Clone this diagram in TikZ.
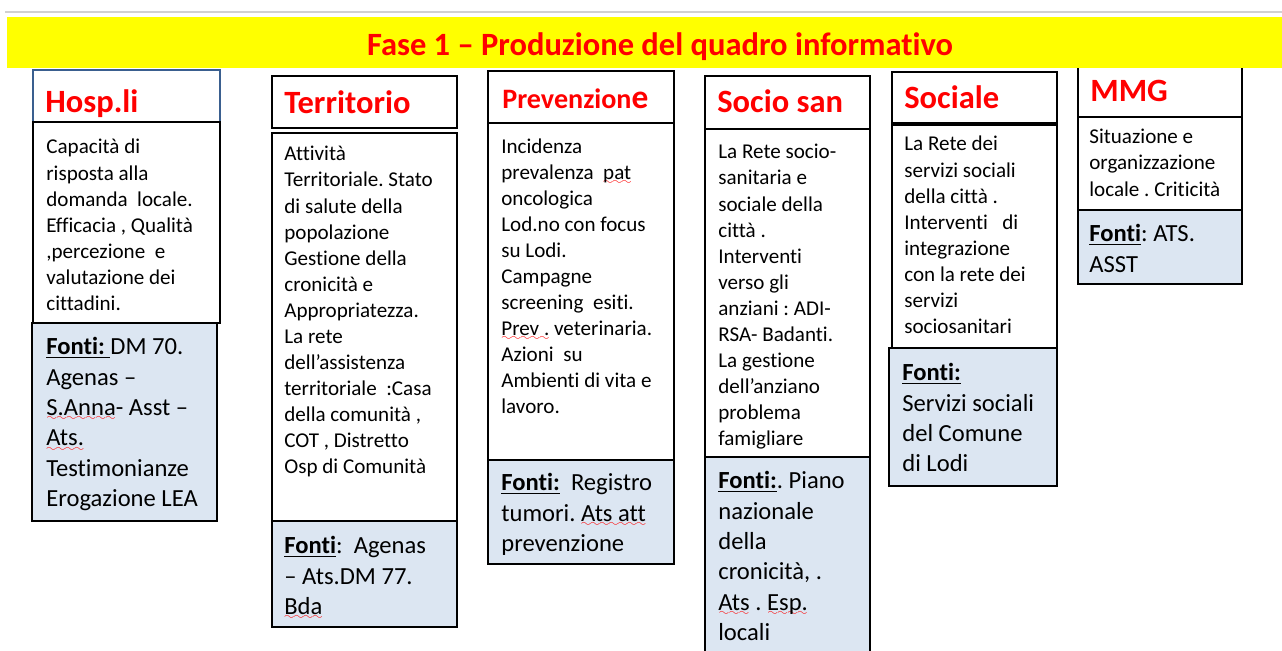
\documentclass[tikz,border=0pt]{standalone}
\usepackage{fontspec}
\setmainfont{Carlito}[Ligatures={TeX,NoCommon}]
\frenchspacing
\definecolor{fasegiallo}{HTML}{FFFF00}
\definecolor{fonteblu}{HTML}{DCE6F2}
\definecolor{hospblu}{HTML}{3A5F8F}
\font\wavefont=lasy6
\newcommand\spellerr[1]{\setbox0\hbox{#1}\leavevmode\rlap{\color{red}\lower3pt\hbox to\wd0{\xleaders\hbox{\wavefont\char58}\hfil}}\box0\relax}
\newcommand\fonti[1]{\textbf{\underline{#1}}}
\tikzset{
	cellbox/.style={draw=black, line width=1pt, fill=white},
	fontebox/.style={draw=black, line width=1pt, fill=fonteblu},
	headtxt/.style={anchor=base west, inner sep=0pt, text=red, font=\fontsize{18.5}{22}\selectfont\bfseries},
	bodytxt/.style={anchor=north west, inner sep=0pt, align=left, font=\fontsize{12}{14.85}\selectfont, execute at begin node=\strut},
	fontetxt/.style={anchor=north west, inner sep=0pt, align=left, font=\fontsize{14}{17.3}\selectfont, execute at begin node=\strut}
}

\begin{document}
\begin{tikzpicture}[x=0.02cm, y=-0.02cm]
		%%%%% START %%%%%
		
		\useasboundingbox (0, 0) rectangle (1282, 650);
		\clip (0, 0) rectangle (1282, 650);
		\fill[white] (0, 0) rectangle (1282, 650);
		
		\draw[line width=0.6pt, color=black!18] (5, 12) -- (1282, 12);
		\draw[cellbox] (1078, 55) rectangle (1242, 117);
		
		\fill[fasegiallo] (7, 17) rectangle (1282, 68);
		\node[anchor=base, inner sep=0pt, text=red, font=\fontsize{18.5}{22}\selectfont\bfseries] (titolo) at (660, 55) {Fase 1 -- Produzione del quadro informativo};
		
		% Hosp.li
		\draw[cellbox, draw=hospblu] (33, 70) rectangle (220, 122);
		\draw[cellbox] (33, 122) rectangle (220, 323);
		\draw[fontebox] (32, 323) rectangle (217, 521);
		\node[headtxt] (hosp) at (45, 112) {Hosp.li};
		\node[bodytxt] (hospBody) at (46, 139) {Capacità di\\ risposta alla\\ domanda\ \ locale.\\ Efficacia , Qualità\\ ,percezione\ \ e\\ valutazione dei\\ cittadini.};
		\node[fontetxt] (hospFonti) at (46, 337) {\fonti{Fonti:\ }DM 70.\\ Agenas --\\ \spellerr{S.Anna}- Asst --\\ \spellerr{Ats.}\\ Testimonianze\\ Erogazione LEA};
		
		% Territorio
		\draw[cellbox] (272, 76) rectangle (457, 128);
		\draw[cellbox] (272, 133) rectangle (457, 521);
		\draw[fontebox] (272, 521) rectangle (457, 627);
		\node[headtxt] (terr) at (284, 113) {Territorio};
		\node[bodytxt] (terrBody) at (284, 146) {Attività\\ Territoriale. Stato\\ di salute della\\ popolazione\\ Gestione della\\ cronicità e\\ Appropriatezza.\\ La rete\\ dell’assistenza\\ territoriale\ \ :Casa\\ della comunità ,\\ COT , Distretto\\ Osp di Comunità};
		\node[fontetxt] (terrFonti) at (284, 536) {\fonti{Fonti}:\ \ Agenas\\ -- Ats.DM 77.\\ \spellerr{Bda}};
		
		% Prevenzione
		\draw[cellbox] (488, 71) rectangle (674, 123);
		\draw[cellbox] (488, 123) rectangle (674, 460);
		\draw[fontebox] (488, 460) rectangle (674, 564);
		\node[headtxt, font=\fontsize{16}{20}\selectfont\bfseries] (prev) at (502, 108) {Prevenzion{\fontsize{19}{22}\selectfont e}};
		\node[bodytxt] (prevBody) at (501, 138) {Incidenza\\ prevalenza\ \ \spellerr{pat}\\ oncologica\\ Lod.no con focus\\ su Lodi.\\ Campagne\\ screening\ \ esiti.\\ \spellerr{Prev .} veterinaria.\\ Azioni\ \ su\\ Ambienti di vita e\\ lavoro.};
		\node[fontetxt] (prevFonti) at (501, 473) {\fonti{Fonti:}\ \ Registro\\ tumori. \spellerr{Ats att}\\ prevenzione};
		
		% Socio san
		\draw[cellbox] (705, 76) rectangle (870, 129);
		\draw[cellbox] (705, 129) rectangle (870, 457);
		\draw[fontebox] (705, 457) rectangle (870, 660);
		\node[headtxt] (socio) at (717, 112) {Socio san};
		\node[bodytxt] (socioBody) at (718, 144) {La Rete socio-\\ sanitaria e\\ sociale della\\ città .\\ Interventi\\ verso gli\\ anziani : ADI-\\ RSA- Badanti.\\ La gestione\\ dell’anziano\\ problema\\ famigliare};
		\node[fontetxt] (socioFonti) at (718, 471) {\fonti{Fonti:}. Piano\\ nazionale\\ della\\ cronicità, .\\ \spellerr{Ats} . \spellerr{Esp.}\\ locali};
		
		% Sociale
		\draw[cellbox] (892, 72) rectangle (1057, 123);
		\draw[cellbox] (892, 125) rectangle (1057, 348);
		\draw[fontebox] (889, 348) rectangle (1057, 486);
		\node[headtxt] (soc) at (904, 108) {Sociale};
		\node[bodytxt] (socBody) at (904, 136) {La Rete dei\\ servizi sociali\\ della città .\\ Interventi\ \ \ di\\ integrazione\\ con la rete dei\\ servizi\\ sociosanitari};
		\node[fontetxt] (socFonti) at (902, 363) {\fonti{Fonti:}\\ Servizi sociali\\ del Comune\\ di Lodi};
		
		% MMG
		\draw[cellbox] (1078, 117) rectangle (1242, 210);
		\draw[fontebox] (1078, 210) rectangle (1242, 284);
		\node[headtxt] (mmg) at (1090, 101) {MMG};
		\node[bodytxt] (mmgBody) at (1089, 129) {Situazione e\\ organizzazione\\ locale . Criticità};
		\node[fontetxt] (mmgFonti) at (1089, 224) {\fonti{Fonti}: ATS.\\ ASST};
		
		%%%%% END %%%%%
\end{tikzpicture}
\end{document}
